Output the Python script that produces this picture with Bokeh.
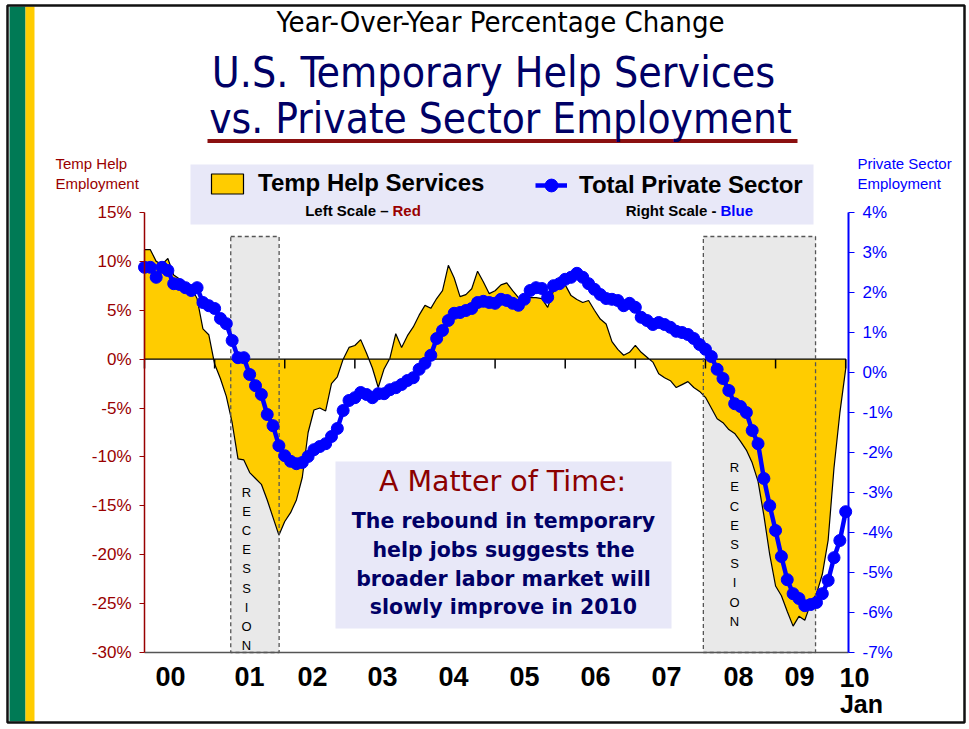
from bokeh.plotting import figure
from bokeh.models import (Range1d, LinearAxis, FixedTicker, PrintfTickFormatter, Label,
                          BoxAnnotation, Legend, LegendItem, ColumnDataSource)
from bokeh.embed import file_html
from bokeh.resources import INLINE

# ---------------- data ----------------
# monthly observations, Jan 2000 ... Jan 2010 (121 months)
month_index = list(range(121))

temp_help = [  # Temp help services, YoY % change (left scale)
    11.2, 11.2, 10.0, 9.7, 10.3, 8.6, 8.2, 7.8, 7.3, 6.2, 3.1, 2.5,
    -0.5, -2.0, -3.8, -6.5, -10.2, -10.3, -11.6, -12.2, -12.8, -14.4, -16.2, -18.0,
    -16.6, -15.7, -14.4, -12.1, -7.5, -5.2, -5.0, -5.3, -2.5, -1.8, 0.0, 1.2,
    1.4, 2.0, 0.6, -0.9, -2.9, -1.0, 0.1, 2.6, 1.2, 2.4, 3.3, 4.5,
    5.5, 5.2, 6.2, 7.0, 9.6, 8.3, 6.4, 6.6, 7.2, 9.0, 7.9, 6.7,
    7.0, 7.6, 7.8, 7.0, 6.3, 6.3, 6.3, 6.3, 6.2, 5.3, 7.0, 8.4,
    7.6, 6.5, 6.1, 5.8, 6.0, 5.0, 4.1, 3.6, 1.8, 1.0, 0.4, 0.7,
    1.4, 0.7, 0.2, -0.3, -1.5, -1.9, -2.2, -2.9, -2.6, -2.3, -2.9, -3.3,
    -3.9, -5.0, -6.1, -6.5, -7.2, -7.6, -8.4, -9.3, -10.6, -12.5, -16.0, -20.0,
    -23.2, -24.2, -25.8, -27.3, -26.3, -26.7, -25.0, -24.0, -22.0, -18.5, -11.1, -5.5,
    -1.0,
]

private_sector = [  # Total private sector employment, YoY % change (right scale)
    2.63, 2.63, 2.38, 2.63, 2.55, 2.22, 2.20, 2.12, 2.05, 2.12, 1.75, 1.67,
    1.60, 1.35, 1.22, 0.80, 0.37, 0.37, -0.05, -0.33, -0.55, -1.05, -1.33, -1.83,
    -2.08, -2.22, -2.28, -2.25, -2.10, -1.93, -1.85, -1.78, -1.60, -1.40, -0.95, -0.70,
    -0.63, -0.50, -0.55, -0.63, -0.53, -0.53, -0.43, -0.38, -0.30, -0.20, -0.13, 0.08,
    0.23, 0.43, 0.85, 1.05, 1.30, 1.48, 1.50, 1.55, 1.60, 1.75, 1.78, 1.75,
    1.73, 1.83, 1.80, 1.73, 1.68, 1.83, 2.05, 2.12, 2.10, 1.88, 2.17, 2.22,
    2.33, 2.38, 2.48, 2.38, 2.22, 2.08, 1.95, 1.85, 1.83, 1.80, 1.67, 1.73,
    1.63, 1.38, 1.30, 1.20, 1.25, 1.20, 1.13, 1.03, 1.00, 0.95, 0.85, 0.70,
    0.58, 0.40, 0.08, -0.15, -0.45, -0.78, -0.85, -1.00, -1.45, -1.78, -2.65, -3.33,
    -3.95, -4.60, -5.18, -5.53, -5.65, -5.83, -5.80, -5.75, -5.53, -5.20, -4.63, -4.20,
    -3.48,
]

recession_start = [2001.23, 2007.97]
recession_end = [2001.92, 2009.57]

year_starts = [2000, 2001, 2002, 2003, 2004, 2005, 2006, 2007, 2008, 2009, 2010]
year_labels = ["00", "01", "02", "03", "04", "05", "06", "07", "08", "09"]
last_year_label = "10"
last_month_label = "Jan"

left_ticks = [-30, -25, -20, -15, -10, -5, 0, 5, 10, 15]
right_ticks = [-7, -6, -5, -4, -3, -2, -1, 0, 1, 2, 3, 4]

# ---------------- layout helpers (page pixels -> data) ----------------
CW, CH = 968, 726
FL, FR, FT, FB = 144, 848, 212, 652      # plot area in page pixels
X0, X1 = 2000.0, 2010.04
YL0, YL1 = -30.0, 15.0
YR0, YR1 = -7.0, 4.0


def X(px):
    return X0 + (px - FL) * (X1 - X0) / (FR - FL)


def Y(py):
    return YL1 - (py - FT) * (YL1 - YL0) / (FB - FT)


def YR(py):
    return YR1 - (py - FT) * (YR1 - YR0) / (FB - FT)


def YB(baseline_px, font_px):
    # position for an "alphabetic" label so that its baseline lands on baseline_px
    return Y(baseline_px - 0.37 * font_px)


RED = "#990000"
BLUE = "#0000FF"
NAVY = "#000066"
YELLOW = "#FFCC00"
LAVENDER = "#E8E8F8"
ARIAL = "Liberation Sans"
COND = "DejaVu Sans Condensed"
VERD = "DejaVu Sans"

x_dates = [2000 + m / 12 for m in month_index]

p = figure(width=CW, height=CH, x_range=Range1d(X(0), X(CW)), y_range=Range1d(Y(CH), Y(0)),
           x_axis_location=None, y_axis_location=None,
           output_backend="svg", toolbar_location=None,
           min_border=0, outline_line_color=None,
           background_fill_color="white", border_fill_color="white")
p.extra_y_ranges = {"right": Range1d(YR(CH), YR(0))}
p.grid.visible = False

# ---------------- axes (fixed at the plot-area edges) ----------------
lax = LinearAxis(fixed_location=X0, bounds=(YL0, YL1), ticker=FixedTicker(ticks=left_ticks),
                 formatter=PrintfTickFormatter(format="%d%%"))
lax.axis_line_color = RED
lax.axis_line_width = 1.5
lax.major_tick_line_color = RED
lax.major_tick_out = 5
lax.major_tick_in = 0
lax.minor_tick_line_color = None
lax.major_label_text_color = RED
lax.major_label_text_font = ARIAL
lax.major_label_text_font_size = "17px"
lax.major_label_standoff = 8
p.add_layout(lax, "left")

rax = LinearAxis(y_range_name="right", fixed_location=X1, bounds=(YR0, YR1),
                 ticker=FixedTicker(ticks=right_ticks),
                 formatter=PrintfTickFormatter(format="%d%%"))
rax.axis_line_color = BLUE
rax.axis_line_width = 2
rax.major_tick_line_color = BLUE
rax.major_tick_out = 6
rax.major_tick_in = 0
rax.minor_tick_line_color = None
rax.major_label_text_color = BLUE
rax.major_label_text_font = ARIAL
rax.major_label_text_font_size = "17px"
rax.major_label_standoff = 8
p.add_layout(rax, "right")

label_px = [170, 249, 312, 382, 453, 524, 595, 666, 738, 799]
label_pos = [round(X(v), 4) for v in label_px]
bax = LinearAxis(fixed_location=YL0, bounds=(X0, X1), ticker=FixedTicker(ticks=label_pos))
bax.major_label_overrides = {pos: lab for pos, lab in zip(label_pos, year_labels)}
bax.axis_line_color = "#555555"
bax.axis_line_width = 1.5
bax.major_tick_line_color = None
bax.major_tick_out = 0
bax.major_tick_in = 0
bax.minor_tick_line_color = None
bax.major_label_text_font = ARIAL
bax.major_label_text_font_style = "bold"
bax.major_label_text_font_size = "27px"
bax.major_label_text_color = "black"
bax.major_label_standoff = 14
p.add_layout(bax, "below")

# ---------------- frame decorations ----------------
p.add_layout(BoxAnnotation(left=X(9), right=X(25), top=Y(6), bottom=Y(721),
                           fill_color="#007A55", fill_alpha=1, line_color=None))
p.add_layout(BoxAnnotation(left=X(25), right=X(34), top=Y(6), bottom=Y(721),
                           fill_color=YELLOW, fill_alpha=1, line_color=None))
p.add_layout(BoxAnnotation(left=X(7), right=X(964), top=Y(5), bottom=Y(722),
                           fill_alpha=0, line_color="#111111", line_alpha=1, line_width=2.5))

# ---------------- data marks ----------------
rec_top = Y(236)
rec_src = ColumnDataSource(dict(left=recession_start, right=recession_end,
                                top=[rec_top] * len(recession_start),
                                bottom=[YL0] * len(recession_start)))
p.quad(left="left", right="right", top="top", bottom="bottom", source=rec_src,
       fill_color="#E9E9E9", line_color=None)

area_x = x_dates + [x_dates[-1], x_dates[0]]
area_y = temp_help + [0, 0]
area_r = p.patch(area_x, area_y, fill_color=YELLOW, line_color="black", line_width=1.2)

p.quad(left="left", right="right", top="top", bottom="bottom", source=rec_src,
       fill_color=None, line_color="#555555", line_width=1.3, line_dash="4 3")

p.segment(x0=year_starts, x1=year_starts, y0=[0] * len(year_starts),
          y1=[-0.95] * len(year_starts), line_color="black", line_width=1.5)

src = ColumnDataSource(dict(x=x_dates, y=private_sector))
line_r = p.line("x", "y", source=src, y_range_name="right", line_color=BLUE, line_width=4.5)
dots_r = p.scatter("x", "y", source=src, y_range_name="right", size=12,
                   fill_color=BLUE, line_color=BLUE)

# ---------------- titles ----------------
p.add_layout(Label(x=X(500), y=YB(32, 29), text="Year-Over-Year Percentage Change",
                   text_align="center", text_baseline="alphabetic",
                   text_font=COND, text_font_size="29px", text_color="black"))
p.add_layout(BoxAnnotation(left=X(207), right=X(797), top=Y(138.5), bottom=Y(142.5),
                           fill_color="#8B1010", fill_alpha=1, line_color=None))
p.add_layout(Label(x=X(493), y=YB(88, 42.5), text="U.S. Temporary Help Services",
                   text_align="center", text_baseline="alphabetic",
                   text_font=COND, text_font_size="42.5px", text_color=NAVY))
p.add_layout(Label(x=X(500), y=YB(134, 42), text="vs. Private Sector Employment",
                   text_align="center", text_baseline="alphabetic",
                   text_font=COND, text_font_size="42px", text_color=NAVY))

# axis titles
p.add_layout(Label(x=X(55), y=Y(173), text="Temp Help\nEmployment",
                   text_align="left", text_baseline="middle", text_line_height=1.16,
                   text_font=ARIAL, text_font_size="15px", text_color=RED))
p.add_layout(Label(x=X(857), y=Y(173), text="Private Sector\nEmployment",
                   text_align="left", text_baseline="middle", text_line_height=1.16,
                   text_font=ARIAL, text_font_size="15px", text_color=BLUE))

# last year label beyond the plot area
p.add_layout(Label(x=X(854), y=YB(687, 27), text=last_year_label, text_align="center",
                   text_baseline="alphabetic", text_font=ARIAL, text_font_style="bold",
                   text_font_size="27px", text_color="black"))
p.add_layout(Label(x=X(861), y=YB(713, 25), text=last_month_label, text_align="center",
                   text_baseline="alphabetic", text_font=ARIAL, text_font_style="bold",
                   text_font_size="25px", text_color="black"))

# ---------------- legend ----------------
p.add_layout(BoxAnnotation(left=X(190), right=X(813), top=Y(164), bottom=Y(224),
                           fill_color=LAVENDER, fill_alpha=1, line_color=None))
common = dict(orientation="horizontal", padding=0, margin=0, spacing=0,
              border_line_color=None, background_fill_alpha=0,
              label_text_font=ARIAL, label_text_font_style="bold",
              label_text_font_size="24px", label_text_color="black")
leg1 = Legend(items=[LegendItem(label="Temp Help Services", renderers=[area_r])],
              location=(207, CH - 197), glyph_width=40, glyph_height=25,
              label_height=25, label_standoff=11, **common)
leg2 = Legend(items=[LegendItem(label="Total Private Sector", renderers=[line_r, dots_r])],
              location=(535, CH - 200.5), glyph_width=32, glyph_height=32,
              label_height=32, label_standoff=12, **common)
p.add_layout(leg1)
p.add_layout(leg2)

sub = dict(y=YB(216, 15), text_baseline="alphabetic", text_font=ARIAL,
           text_font_style="bold", text_font_size="15px")
p.add_layout(Label(x=X(388), text="Left Scale \u2013", text_align="right",
                   text_color="black", **sub))
p.add_layout(Label(x=X(392), text="Red", text_align="left", text_color=RED, **sub))
p.add_layout(Label(x=X(716), text="Right Scale -", text_align="right",
                   text_color="black", **sub))
p.add_layout(Label(x=X(720), text="Blue", text_align="left", text_color=BLUE, **sub))

# ---------------- recession captions ----------------
for cx, cy in [(246, 568.5), (734, 544)]:
    p.add_layout(Label(x=X(cx), y=Y(cy), text="R\nE\nC\nE\nS\nS\nI\nO\nN",
                       text_align="center", text_baseline="middle", text_line_height=1.28,
                       text_font=ARIAL, text_font_size="13px", text_color="black"))

# ---------------- call-out box ----------------
p.add_layout(BoxAnnotation(left=X(335), right=X(671), top=Y(461), bottom=Y(628),
                           fill_color=LAVENDER, fill_alpha=1, line_color=None))
p.add_layout(Label(x=X(502), y=YB(492, 28.5), text="A Matter of Time:", text_align="center",
                   text_baseline="alphabetic", text_font=VERD, text_font_size="28.5px",
                   text_color="#8B0000"))
for txt, base in [("The rebound in temporary", 528), ("help jobs suggests the", 557),
                  ("broader labor market will", 586), ("slowly improve in 2010", 614)]:
    p.add_layout(Label(x=X(503), y=YB(base, 20.5), text=txt, text_align="center",
                       text_baseline="alphabetic", text_font=VERD, text_font_style="bold",
                       text_font_size="20.5px", text_color=NAVY))

open("out.html", "w").write(file_html(p, INLINE))
